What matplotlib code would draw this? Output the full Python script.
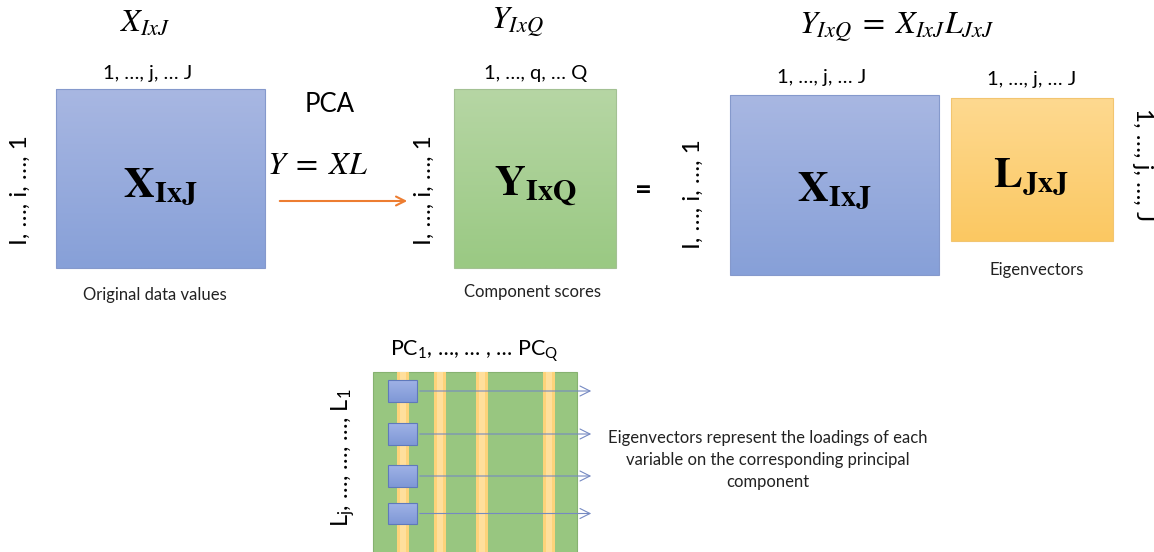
import numpy as np
import matplotlib.pyplot as plt
from matplotlib.colors import to_rgb
from matplotlib.patches import Rectangle

# labels used in the diagram
matrix_titles = [r"$X_{IxJ}$", r"$Y_{IxQ}$", r"$Y_{IxQ}\;=\;X_{IxJ}L_{JxJ}$"]
matrix_names = [r"$\mathbf{X}_{\mathbf{IxJ}}$", r"$\mathbf{Y}_{\mathbf{IxQ}}$",
                r"$\mathbf{X}_{\mathbf{IxJ}}$", r"$\mathbf{L}_{\mathbf{JxJ}}$"]
col_labels = ["1, …, j, … J", "1, …, q, … Q", "1, …, j, … J", "1, …, j, … J"]
row_label = "I, …, i, …, 1"
row_label_L = "1, …, j, …, J"
captions = ["Original data values", "Component scores", "Eigenvectors"]
pc_label = r"PC$_\mathrm{1}$, …, … , … PC$_\mathrm{Q}$"
loading_label = r"L$_\mathrm{j}$, …, …, …, L$_\mathrm{1}$"
note = "Eigenvectors represent the loadings of each\nvariable on the corresponding principal\ncomponent"

plt.rcParams['font.family'] = ['Lato', 'DejaVu Sans']
plt.rcParams['mathtext.fontset'] = 'custom'
plt.rcParams['mathtext.rm'] = 'Lato'
plt.rcParams['mathtext.it'] = 'Lato:italic'
plt.rcParams['mathtext.bf'] = 'Lato:bold'

W, H = 1154, 552
fig = plt.figure(figsize=(W / 100, H / 100), dpi=100)
ax = fig.add_axes([0, 0, 1, 1])

BLUE = ("#a8b7e2", "#87a0d8", "#8599cc")
GREEN = ("#b6d6a4", "#9ac983", "#a3c193")
ORANGE = ("#fed990", "#fbc862", "#f2c570")


def grad_box(x0, y0, x1, y1, colors, z=1):
    top, bottom, edge = colors
    g = np.linspace(0, 1, 64)[:, None, None]
    c0 = np.array(to_rgb(top))
    c1 = np.array(to_rgb(bottom))
    img = c0 + (c1 - c0) * g
    ax.imshow(img, extent=(x0, x1, y1, y0), aspect='auto', zorder=z,
              interpolation='bilinear')
    ax.add_patch(Rectangle((x0, y0), x1 - x0, y1 - y0, fill=False,
                           ec=edge, lw=0.8, zorder=z + 0.1))


# top row boxes
grad_box(56, 89, 265, 268, BLUE)
grad_box(454, 89, 616, 268, GREEN)
grad_box(730, 95, 939, 275, BLUE)
grad_box(951, 98, 1113, 241, ORANGE)

title_kw = dict(math_fontfamily='stix', fontsize=23, ha='center', va='center')
ax.text(145, 22, matrix_titles[0], **title_kw)
ax.text(517, 22, matrix_titles[1], **title_kw)
ax.text(897, 27, matrix_titles[2], **title_kw)

name_kw = dict(math_fontfamily='stix', fontsize=31, ha='center', va='center')
ax.text(160, 187, matrix_names[0], **name_kw)
ax.text(535, 187, matrix_names[1], **name_kw)
ax.text(834, 191, matrix_names[2], **name_kw)
ax.text(1031, 177, matrix_names[3], **name_kw)

col_kw = dict(fontsize=14.5, ha='center', va='center')
ax.text(148, 74, col_labels[0], **col_kw)
ax.text(536, 74, col_labels[1], **col_kw)
ax.text(822, 77, col_labels[2], **col_kw)
ax.text(1032, 80, col_labels[3], **col_kw)

row_kw = dict(fontsize=17.5, ha='center', va='center')
ax.text(20, 190, row_label, rotation=90, **row_kw)
ax.text(424, 190, row_label, rotation=90, **row_kw)
ax.text(693, 194, row_label, rotation=90, **row_kw)
ax.text(1143, 165, row_label_L, rotation=270, **row_kw)

cap_kw = dict(fontsize=12, ha='center', va='center', color='#222222')
ax.text(155, 295, captions[0], **cap_kw)
ax.text(532, 292, captions[1], **cap_kw)
ax.text(1037, 270, captions[2], **cap_kw)

ax.text(330, 104, "PCA", fontsize=18.5, ha='center', va='center')
ax.text(318, 165, r"$Y\;=\;XL$", math_fontfamily='stix', fontsize=23,
        ha='center', va='center')
ax.text(643, 191, "=", fontsize=21, fontweight='bold', ha='center', va='center')

ax.annotate('', xy=(410, 201), xytext=(277, 201),
            arrowprops=dict(arrowstyle='->', color='#ed7d31', lw=1.5,
                            mutation_scale=16))

# loadings matrix at the bottom
ax.add_patch(Rectangle((373, 372), 204, 185, fc='#98c680', ec='#86b270',
                       lw=0.8, zorder=1))
for sx in [397, 434, 476, 543]:
    ax.add_patch(Rectangle((sx, 372), 12, 185, fc='#fdd37a', ec='none', zorder=2))
    ax.add_patch(Rectangle((sx + 3, 372), 6, 185, fc='#ffdf9c', ec='none', zorder=2))

for y0, y1 in [(380, 402), (423, 445), (465, 487), (503, 524)]:
    grad_box(388, y0, 417, y1, ("#9fb2e6", "#7f98d6", "#5f79bb"), z=4)
    yc = (y0 + y1) / 2
    ax.annotate('', xy=(594, yc), xytext=(417, yc), zorder=3,
                arrowprops=dict(arrowstyle='->', color='#7589c2', lw=0.8,
                                mutation_scale=18))

ax.text(474, 352, pc_label, fontsize=15.5, ha='center', va='center',
        math_fontfamily='custom')
ax.text(343, 458, loading_label, fontsize=17, ha='center', va='center',
        rotation=90, math_fontfamily='custom')
ax.text(768, 460, note, fontsize=12, ha='center', va='center',
        linespacing=1.45, color='#222222')

ax.set_xlim(0, W)
ax.set_ylim(H, 0)
ax.axis('off')
fig.savefig("out.png", dpi=100, facecolor='white')
